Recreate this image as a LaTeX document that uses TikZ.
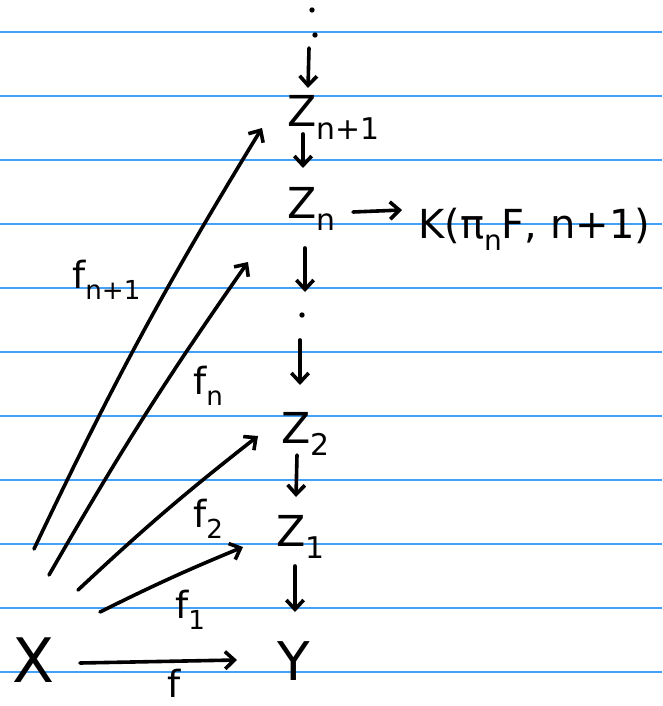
\documentclass[tikz,border=0pt]{standalone}
\usepackage{fontspec}
\setmainfont{DejaVu Sans}
\usepackage{graphicx}
\usetikzlibrary{arrows.meta}
\definecolor{ruleblue}{RGB}{66,160,245}
\newcommand{\subidx}[1]{\raisebox{-0.3em}{\scalebox{0.7}{#1}}}

\begin{document}
\begin{tikzpicture}[
    x=0.75pt, y=-0.75pt,
    obj/.style={inner sep=0pt,anchor=base west,font=\fontsize{32}{36}\selectfont},
    lbl/.style={inner sep=0pt,anchor=base west,font=\fontsize{28}{32}\selectfont},
    dotnode/.style={circle,fill,inner sep=0pt,minimum size=4pt},
    arr/.style={-{Straight Barb[length=7pt,width=13pt]},line width=2.7pt,line cap=round,line join=round},
    rule/.style={ruleblue,line width=1.4pt}
]
\useasboundingbox (0,0) rectangle (662,706);
% ruled paper
\foreach \k in {0,...,10}
    \draw[rule] (0,{32+64*\k}) -- (662,{32+64*\k});

% the tower
\node[dotnode] (dtopa) at (312,10) {};
\node[dotnode] (dtopb) at (315,35) {};
\node[obj] (Zn1) at (287,127) {Z\subidx{n+1}};
\node[obj] (Zn) at (287,218) {Z\subidx{n}};
\node[obj,font=\fontsize{30}{34}\selectfont] (K) at (418,238) {K(π\subidx{n}F, n+1)};
\node[dotnode] (dmid) at (302,315) {};
\node[obj] (Z2) at (281,443) {Z\subidx{2}};
\node[obj] (Z1) at (276,546) {Z\subidx{1}};
\node[obj,font=\fontsize{40}{44}\selectfont] (Y) at (277,680) {Y};
\node[obj,font=\fontsize{46}{50}\selectfont] (X) at (12,682) {X};

% labels
\node[lbl] (lf) at (167,697) {f};
\node[lbl] (lf1) at (175,618) {f\subidx{1}};
\node[lbl] (lf2) at (193,527) {f\subidx{2}};
\node[lbl] (lfn) at (193,394) {f\subidx{n}};
\node[lbl] (lfn1) at (72,288) {f\subidx{n+1}};

\draw[arr] ([xshift=-4.5pt,yshift=-9.75pt]dtopb.center) -- ([xshift=15.75pt,yshift=29.25pt]Zn1.base west);
\draw[arr] ([xshift=12pt,yshift=-5.25pt]Zn1.base west) -- ([xshift=12pt,yshift=37.5pt]Zn.base west);
\draw[arr] ([xshift=13.5pt,yshift=-22.5pt]Zn.base west) -- ([xshift=2.25pt,yshift=17.25pt]dmid.center);
\draw[arr] ([xshift=-1.5pt,yshift=-18.75pt]dmid.center) -- ([xshift=14.25pt,yshift=43.5pt]Z2.base west);
\draw[arr] ([xshift=12pt,yshift=-9pt]Z2.base west) -- ([xshift=15pt,yshift=36.75pt]Z1.base west);
\draw[arr] ([xshift=14.25pt,yshift=-15pt]Z1.base west) -- ([xshift=13.5pt,yshift=51pt]Y.base west);
\draw[arr] ([xshift=49.5pt,yshift=4.5pt]Zn.base west) -- ([xshift=-12pt,yshift=21pt]K.base west);

\draw[arr] ([xshift=51pt,yshift=14.25pt]X.base west) -- ([xshift=-30pt,yshift=15pt]Y.base west);
\draw[arr] ([xshift=66pt,yshift=52.5pt]X.base west) to[bend left=2] ([xshift=-24.75pt,yshift=-0.75pt]Z1.base west);
\draw[arr] ([xshift=49.5pt,yshift=69pt]X.base west) to[bend left=2.5] ([xshift=-17.25pt,yshift=5.25pt]Z2.base west);
\draw[arr] ([xshift=27.75pt,yshift=80.25pt]X.base west) to[bend left=2.5] ([xshift=-29.25pt,yshift=-33pt]Zn.base west);
\draw[arr] ([xshift=16.5pt,yshift=99.75pt]X.base west) to[bend left=3] ([xshift=-18.75pt,yshift=-0.75pt]Zn1.base west);
\end{tikzpicture}
\end{document}
